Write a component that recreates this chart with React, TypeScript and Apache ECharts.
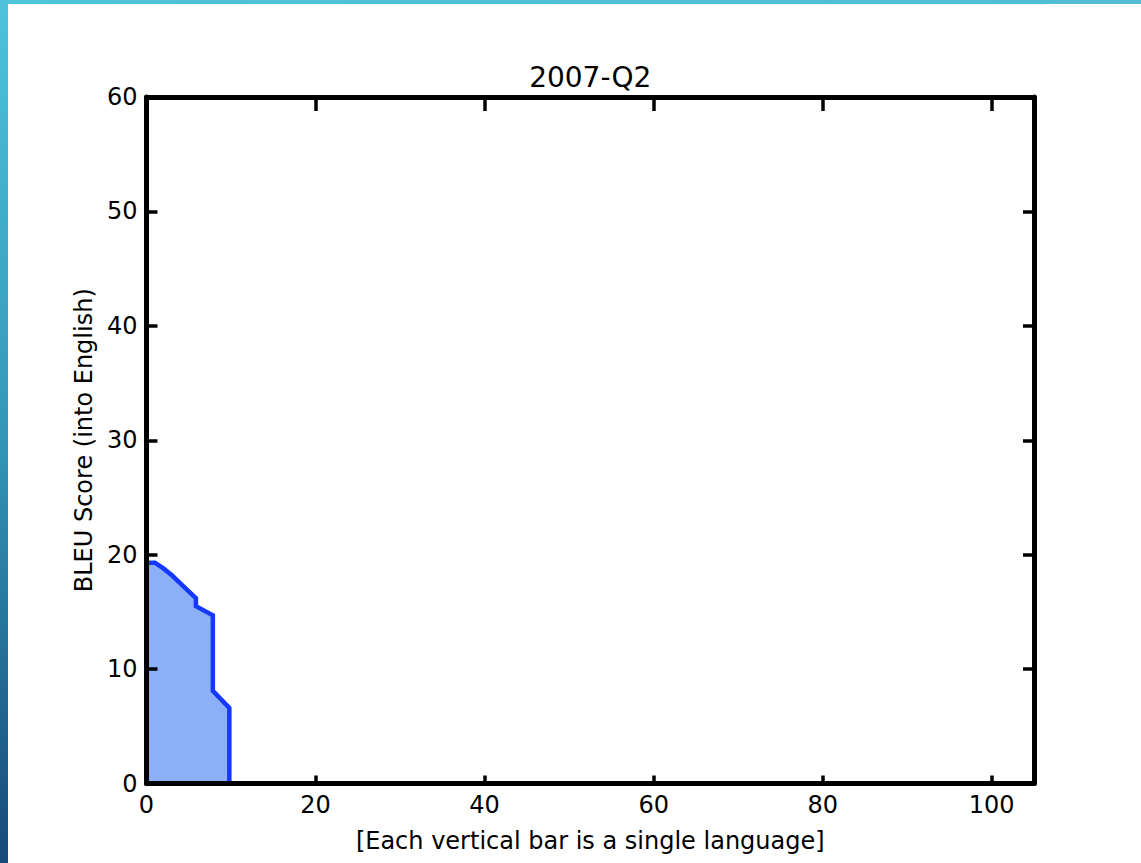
import React, { useEffect, useRef } from "react";
import * as echarts from "echarts";

const chartTitle = "2007-Q2";
const xAxisName = "[Each vertical bar is a single language]";
const yAxisName = "BLEU Score (into English)";

// outline of the per-language BLEU scores (x = language position, y = score)
const langX = [0, 1.0, 2.0, 3.0, 4.0, 5.0, 5.85, 5.85, 7.85, 7.85, 9.8, 9.8];
const langY = [19.3, 19.3, 18.8, 18.2, 17.5, 16.8, 16.2, 15.5, 14.7, 8.1, 6.6, 0];

const xMin = 0;
const xMax = 105;
const xInterval = 20;
const yMin = 0;
const yMax = 60;
const yInterval = 10;

const FONT = "DejaVu Sans";
const GRID = { left: 146.5, right: 107, top: 97, bottom: 79.5 };

export default function App() {
  const ref = useRef<HTMLDivElement>(null);

  useEffect(() => {
    if (!ref.current) return;
    const chart = echarts.init(ref.current, undefined, { renderer: "svg" });
    const lineData = langX.map((x, i) => [x, langY[i]]);

    const axisLineStyle = { color: "#000", width: 5 };
    const label = { color: "#000", fontSize: 24, fontFamily: FONT };
    const plotCenterX = GRID.left + (1141 - GRID.left - GRID.right) / 2;

    chart.setOption({
      animation: false,
      backgroundColor: "#ffffff",
      graphic: [
        {
          type: "rect",
          shape: { x: 0, y: 0, width: 1141, height: 4 },
          style: {
            fill: new echarts.graphic.LinearGradient(0, 0, 1, 0, [
              { offset: 0, color: "#4ec3d9" },
              { offset: 1, color: "#52bcd6" },
            ]),
          },
          silent: true,
        },
        {
          type: "rect",
          shape: { x: 0, y: 0, width: 8, height: 863 },
          style: {
            fill: new echarts.graphic.LinearGradient(0, 0, 0, 1, [
              { offset: 0, color: "#4ec3d9" },
              { offset: 0.5, color: "#3398b8" },
              { offset: 1, color: "#174a78" },
            ]),
          },
          silent: true,
        },
        {
          type: "text",
          x: plotCenterX,
          y: 77,
          style: {
            text: chartTitle,
            fill: "#000",
            fontSize: 28,
            fontFamily: FONT,
            align: "center",
            verticalAlign: "middle",
          },
          silent: true,
        },
      ],
      grid: { ...GRID, containLabel: false },
      xAxis: [
        {
          type: "value",
          position: "bottom",
          min: xMin,
          max: xMax,
          interval: xInterval,
          z: 5,
          axisLine: { show: true, onZero: false, lineStyle: axisLineStyle },
          axisTick: { show: true, inside: true, length: 8, lineStyle: { color: "#000", width: 3.5 } },
          axisLabel: { ...label, margin: 9, showMaxLabel: false, formatter: (v: number) => (v > 100 ? "" : String(v)) },
          splitLine: { show: false },
          name: xAxisName,
          nameLocation: "middle",
          nameGap: 45,
          nameTextStyle: { color: "#000", fontSize: 24, fontFamily: FONT },
        },
        {
          type: "value",
          position: "top",
          min: xMin,
          max: xMax,
          interval: xInterval,
          z: 5,
          axisLine: { show: true, onZero: false, lineStyle: axisLineStyle },
          axisTick: { show: true, inside: true, length: 14, lineStyle: { color: "#000", width: 3.5 } },
          axisLabel: { show: false },
          splitLine: { show: false },
        },
      ],
      yAxis: [
        {
          type: "value",
          position: "left",
          min: yMin,
          max: yMax,
          interval: yInterval,
          z: 5,
          axisLine: { show: true, onZero: false, lineStyle: axisLineStyle },
          axisTick: { show: true, inside: true, length: 11, lineStyle: { color: "#000", width: 3.5 } },
          axisLabel: { ...label, margin: 9 },
          splitLine: { show: false },
          name: yAxisName,
          nameLocation: "middle",
          nameGap: 48,
          nameRotate: 90,
          nameTextStyle: { color: "#000", fontSize: 24, fontFamily: FONT },
        },
        {
          type: "value",
          position: "right",
          min: yMin,
          max: yMax,
          interval: yInterval,
          z: 5,
          axisLine: { show: true, onZero: false, lineStyle: axisLineStyle },
          axisTick: { show: true, inside: true, length: 11, lineStyle: { color: "#000", width: 3.5 } },
          axisLabel: { show: false },
          splitLine: { show: false },
        },
      ],
      series: [
        {
          type: "line",
          xAxisIndex: 0,
          yAxisIndex: 0,
          data: lineData,
          symbol: "none",
          z: 2,
          lineStyle: { color: "#1538ff", width: 4.5, join: "miter" },
          areaStyle: { color: "#8cb0f7", opacity: 1 },
        },
      ],
    });

    return () => chart.dispose();
  }, []);

  return (
    <div
      ref={ref}
      style={{ position: "fixed", left: 0, top: 0, width: 1141, height: 863 }}
    />
  );
}
